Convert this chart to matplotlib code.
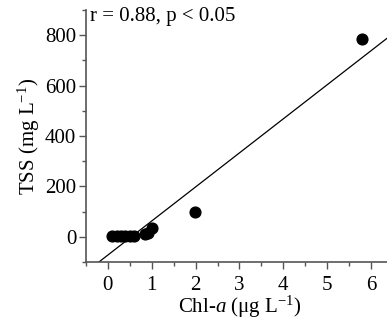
import numpy as np
import matplotlib.pyplot as plt
from matplotlib.ticker import MultipleLocator

plt.rcParams['font.family'] = 'Liberation Serif'
plt.rcParams['mathtext.fontset'] = 'custom'
plt.rcParams['mathtext.rm'] = 'Liberation Serif'
plt.rcParams['mathtext.it'] = 'Liberation Serif:italic'

# Data
chl = [0.1, 0.2, 0.3, 0.4, 0.5, 0.6, 0.85, 0.92, 1.0, 1.98, 5.8]
tss = [2, 3, 2, 4, 5, 4, 12, 15, 35, 98, 785]

# regression line coefficients
slope, intercept = 135, -72
x_line = np.array([-0.5, 6.5])

fig = plt.figure(figsize=(3.87, 3.2), dpi=100)
ax = fig.add_axes([0.2222, 0.181, 0.793, 0.788])

ax.scatter(chl, tss, s=60, color='black', zorder=3)
ax.plot(x_line, slope * x_line + intercept, color='black', lw=0.9)

ax.set_xlim(-0.5, 6.5)
ax.set_ylim(-100, 900)
ax.xaxis.set_major_locator(MultipleLocator(1))
ax.xaxis.set_minor_locator(MultipleLocator(0.5))
ax.yaxis.set_major_locator(MultipleLocator(200))
ax.yaxis.set_minor_locator(MultipleLocator(100))
ax.set_yticks([0, 200, 400, 600, 800])

for side in ['top', 'right']:
    ax.spines[side].set_visible(False)
for side in ['left', 'bottom']:
    ax.spines[side].set_color('#555555')
    ax.spines[side].set_linewidth(1.2)

ax.tick_params(which='both', direction='out', colors='#555555', labelcolor='black',
               labelsize=15, width=1)
ax.tick_params(which='major', length=5, pad=2)
ax.tick_params(axis='x', which='major', pad=5)
ax.tick_params(which='minor', length=3)

ax.set_xlabel('Chl-$\\mathit{a}$ ($\\mathrm{\\mu}$g L$^{\\mathrm{-1}}$)', fontsize=15, labelpad=-1)
ax.set_ylabel('TSS (mg L$^{\\mathrm{-1}}$)', fontsize=15, labelpad=2)

ax.text(0.013, 1.01, 'r = 0.88, p < 0.05', transform=ax.transAxes,
        fontsize=15, va='top', ha='left')

fig.savefig('out.png', dpi=100)
